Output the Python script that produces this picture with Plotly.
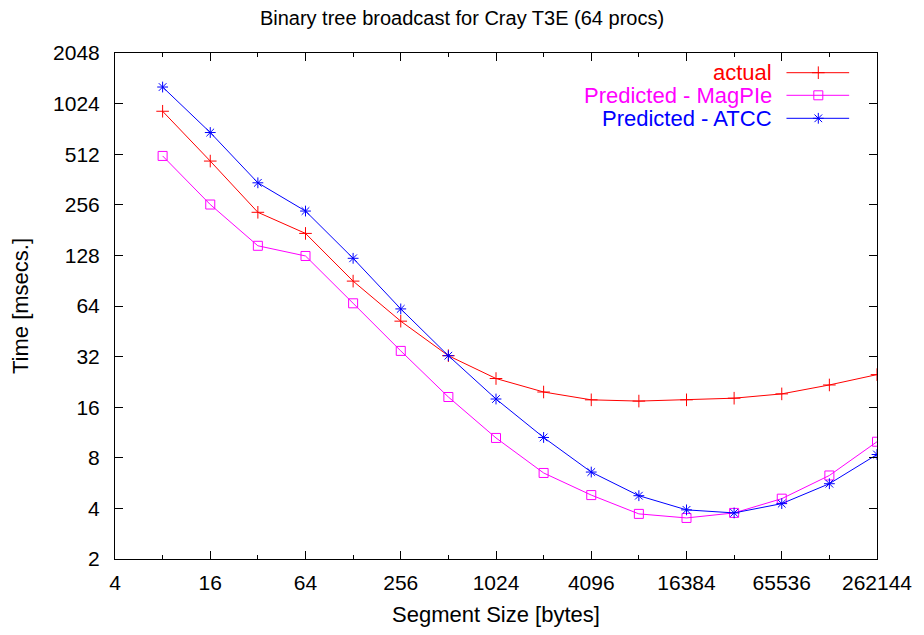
import plotly.graph_objects as go

# ---- data ----
segment_size = [8, 16, 32, 64, 128, 256, 512, 1024, 2048, 4096, 8192, 16384, 32768, 65536, 131072, 262144]
actual = [922, 466, 231, 173, 90, 52, 32.4, 23.7, 19.7, 17.7, 17.4, 17.7, 18.1, 19.2, 21.7, 25.0]
magpie = [500, 257, 146, 127, 66.4, 34.6, 18.4, 10.5, 6.5, 4.8, 3.71, 3.51, 3.76, 4.57, 6.28, 9.97]
atcc = [1285, 689, 346, 235, 123, 61.5, 32.4, 17.9, 10.57, 6.58, 4.76, 3.92, 3.76, 4.27, 5.61, 8.37]

x_ticks = [4, 16, 64, 256, 1024, 4096, 16384, 65536, 262144]
x_minor = [8, 32, 128, 512, 2048, 8192, 32768, 131072]
y_ticks = [2, 4, 8, 16, 32, 64, 128, 256, 512, 1024, 2048]

series = [
    ("actual", actual, "#ff0000", "cross-thin-open"),
    ("Predicted - MagPIe", magpie, "#ff00ff", "square-open"),
    ("Predicted - ATCC", atcc, "#0000ff", "asterisk-open"),
]

FONT = "Liberation Sans, Arial, sans-serif"
W, H = 924, 635
L, R, T, B = 115, 43, 53, 76
PW, PH = W - L - R, H - T - B

fig = go.Figure()
for name, vals, col, sym in series:
    fig.add_trace(go.Scatter(
        x=segment_size, y=vals, name=name, mode="lines+markers",
        line=dict(color=col, width=1),
        marker=dict(symbol=sym, size=9, color=col, line=dict(color=col, width=1)),
        showlegend=False,
    ))

# custom gnuplot-style legend (text right, sample on the right)
def px2x(px):
    return (px - L) / PW

def py2y(py):
    return 1 - (py - T) / PH

rows = [72.7, 95.3, 118.3]
annotations = []
for (name, vals, col, sym), ry in zip(series, rows):
    fig.add_trace(go.Scatter(
        x=[px2x(790), px2x(853)], y=[py2y(ry), py2y(ry)], mode="lines",
        line=dict(color=col, width=1), xaxis="x2", yaxis="y2",
        showlegend=False, hoverinfo="skip",
    ))
    fig.add_trace(go.Scatter(
        x=[px2x(822)], y=[py2y(ry)], mode="markers",
        marker=dict(symbol=sym, size=9, color=col, line=dict(color=col, width=1)),
        xaxis="x2", yaxis="y2", showlegend=False, hoverinfo="skip",
    ))
    annotations.append(dict(
        x=px2x(777), y=py2y(ry), xref="paper", yref="paper",
        text=name, showarrow=False, xanchor="right", yanchor="middle",
        font=dict(family=FONT, size=22, color=col),
    ))

annotations.append(dict(
    x=0.5, y=0, xref="paper", yref="paper", yshift=-(614 - (T + PH)),
    text="Segment Size [bytes]", showarrow=False, xanchor="center", yanchor="middle",
    font=dict(family=FONT, size=22, color="black"),
))
annotations.append(dict(
    x=0, y=0.5, xref="paper", yref="paper", xshift=20 - L,
    text="Time [msecs.]", showarrow=False, xanchor="center", yanchor="middle",
    textangle=-90, font=dict(family=FONT, size=22, color="black"),
))

axis_common = dict(
    showgrid=False, zeroline=False, showline=True, linecolor="black", linewidth=1,
    mirror="ticks", ticks="inside", ticklen=8, tickcolor="black", tickwidth=1,
    tickfont=dict(family=FONT, size=21, color="black"),
)

fig.update_layout(
    width=W, height=H,
    margin=dict(l=L, r=R, t=T, b=B),
    paper_bgcolor="white", plot_bgcolor="white",
    title=dict(text="Binary tree broadcast for Cray T3E (64 procs)",
               x=0.5, xanchor="center", y=1 - 18 / H, yanchor="middle",
               font=dict(family=FONT, size=20, color="black")),
    xaxis=dict(type="log", range=[0.60206, 5.41854], tickvals=x_ticks,
               ticktext=[str(v) for v in x_ticks], ticklabelstandoff=5,
               minor=dict(tickvals=x_minor, ticks="inside", ticklen=4, tickcolor="black"),
               **axis_common),
    yaxis=dict(type="log", range=[0.30103, 3.31133], tickvals=y_ticks,
               ticktext=[str(v) for v in y_ticks], ticklabelstandoff=10,
               **axis_common),
    xaxis2=dict(range=[0, 1], overlaying="x", visible=False, fixedrange=True),
    yaxis2=dict(range=[0, 1], overlaying="y", visible=False, fixedrange=True),
    annotations=annotations,
    showlegend=False,
)

fig.write_html("out.html")
